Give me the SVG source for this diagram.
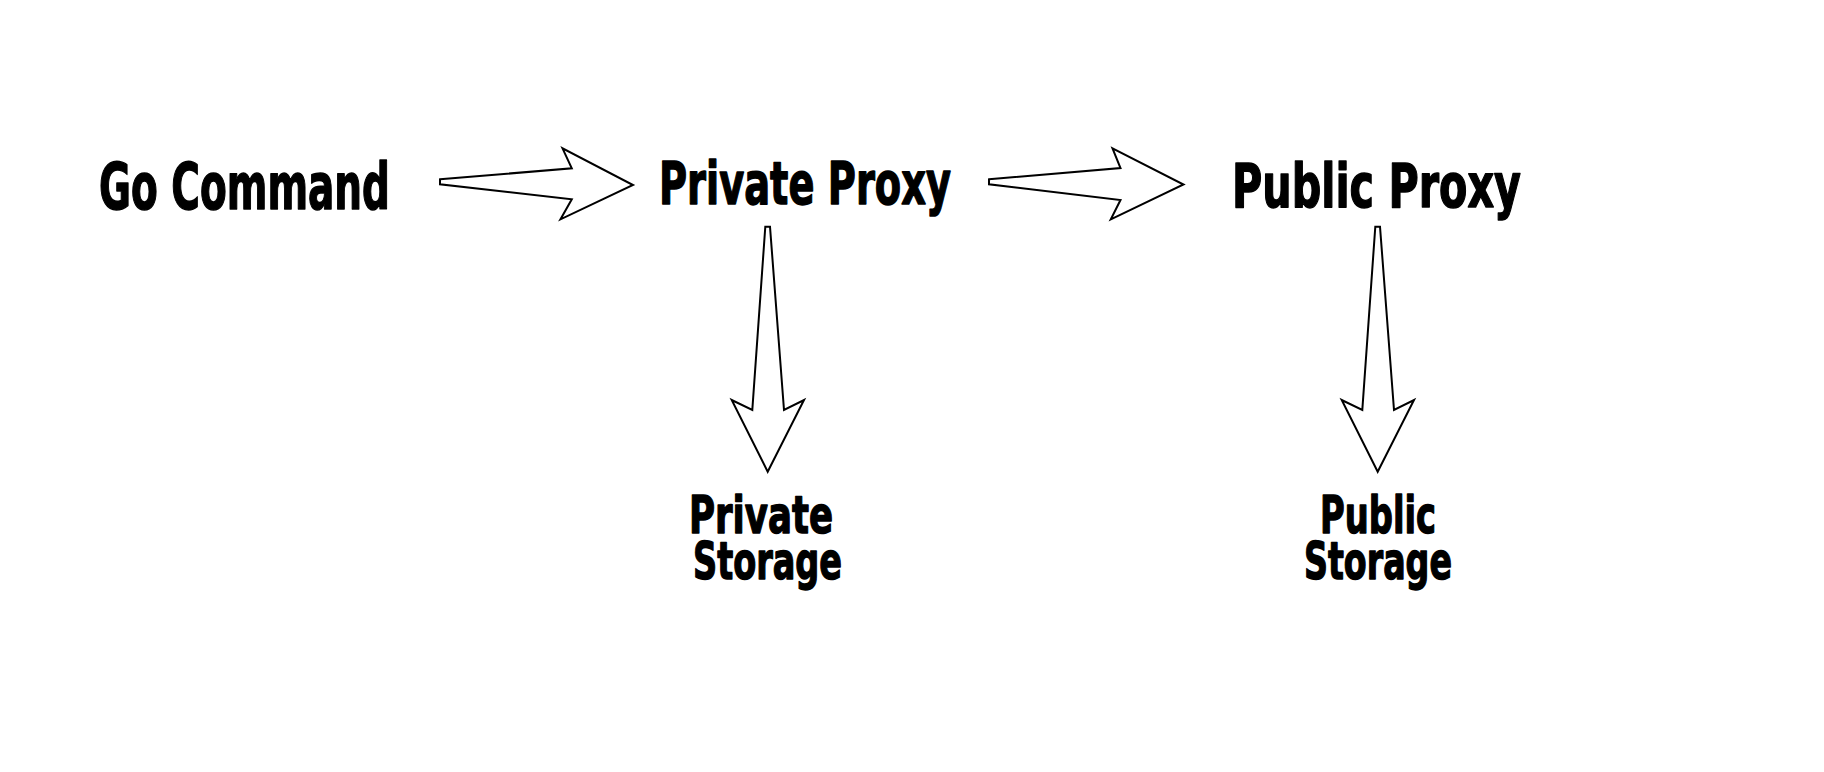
<svg xmlns="http://www.w3.org/2000/svg" width="1824" height="772" viewBox="0 0 1824 772">
<style>
.lbl{font-family:"DejaVu Sans","Liberation Sans",sans-serif;font-weight:bold;fill:#000;stroke:#000;stroke-width:1.5;stroke-linejoin:round}
.arr{fill:#fff;stroke:#000;stroke-width:2;stroke-linejoin:miter}
</style>
<rect width="1824" height="772" fill="#fff"/>
<g id="connectors">
<polygon class="arr" points="440,179.3 571.8,168.3 562.5,148.3 633,185 560.5,219.3 571.8,199.3 440,184.3"/>
<polygon class="arr" points="989,179.3 1120.5,168 1112.5,148.3 1183.5,184.5 1110.8,219.3 1120.5,200 989,184.3"/>
<polygon class="arr" points="765.3,226.7 770,226.7 784,410 804,400 767.7,471.7 731.7,400 752.3,410"/>
<polygon class="arr" points="1375.3,226.7 1380,226.7 1394,410 1414,400 1377.7,471.7 1341.7,400 1362.3,410"/>
</g>
<g id="go-command">
<text class="lbl" x="99" y="209" font-size="64" textLength="291" lengthAdjust="spacingAndGlyphs">Go Command</text>
</g>
<g id="private-proxy">
<text class="lbl" x="659" y="204" font-size="58" textLength="292" lengthAdjust="spacingAndGlyphs">Private Proxy</text>
</g>
<g id="public-proxy">
<text class="lbl" x="1232" y="207" font-size="61" textLength="289" lengthAdjust="spacingAndGlyphs">Public Proxy</text>
</g>
<g id="private-storage">
<text class="lbl" font-size="52"><tspan x="689" y="533" textLength="144" lengthAdjust="spacingAndGlyphs">Private</tspan><tspan x="693" y="579" textLength="149" lengthAdjust="spacingAndGlyphs">Storage</tspan></text>
</g>
<g id="public-storage">
<text class="lbl" font-size="52"><tspan x="1320" y="533" textLength="116" lengthAdjust="spacingAndGlyphs">Public</tspan><tspan x="1304" y="579" textLength="148" lengthAdjust="spacingAndGlyphs">Storage</tspan></text>
</g>
</svg>
